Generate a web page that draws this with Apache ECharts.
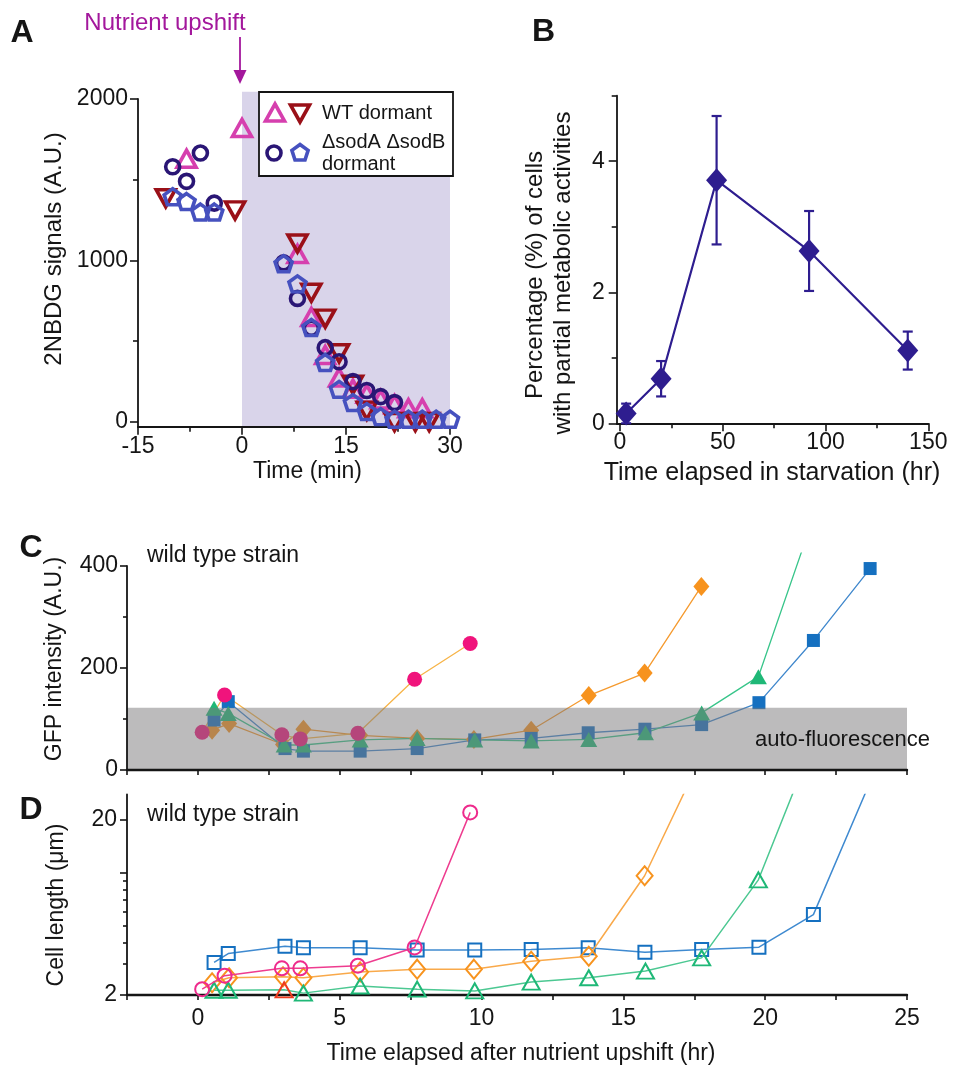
<!DOCTYPE html>
<html>
<head>
<meta charset="utf-8">
<title>Dormancy depth and regrowth</title>
<style>
  html, body { margin: 0; padding: 0; background: #ffffff; }
  #chart { width: 955px; height: 1067px; }
</style>
<script src="https://cdn.jsdelivr.net/npm/echarts@6/dist/echarts.min.js"></script>
</head>
<body>
<div id="chart"></div>
<script>
// ---------- Panel A: 2NBDG signal around the nutrient upshift (min) ----------
const aTimeWtUp = [-8, 0, 8, 10, 12, 14, 16, 18, 20, 22, 24, 26];
const aSignalWtUp = [1630, 1820, 1040, 650, 415, 275, 205, 175, 140, 110, 85, 85];
const aTimeWtDown = [-11, -1, 8, 10, 12, 14, 16, 18, 22, 25, 27];
const aSignalWtDown = [1385, 1310, 1105, 800, 640, 425, 230, 70, 0, 0, 0];
const aTimeSodCircle = [-10, -8, -6, -4, 6, 8, 10, 12, 14, 16, 18, 20, 22];
const aSignalSodCircle = [1580, 1490, 1665, 1355, 985, 765, 580, 460, 373, 250, 195, 157, 120];
const aTimeSodPent = [-10, -8, -6, -4, 6, 8, 10, 12, 14, 16, 18, 20, 22, 24, 26, 28, 30];
const aSignalSodPent = [1395, 1365, 1300, 1300, 980, 855, 585, 368, 202, 120, 64, 33, 17, 17, 17, 17, 17];
const aUpshiftWindow = [0, 30];
const aXTicks = [-15, 0, 15, 30];
const aXMinorTicks = [-7.5, 7.5, 22.5];
const aYTicks = [0, 1000, 2000];
const aYMinorTicks = [500, 1500];

// ---------- Panel B: cells with partial metabolic activity vs starvation time ----------
const bTime = [3, 20, 47, 92, 140];
const bPercent = [0.15, 0.68, 3.71, 2.63, 1.11];
const bError = [0.15, 0.27, 0.98, 0.61, 0.29];
const bXTicks = [0, 50, 100, 150];
const bXMinorTicks = [25, 75, 125];
const bYTicks = [0, 2, 4];
const bYMinorTicks = [1, 3, 5];

// ---------- Panels C and D: single wild type cells after the upshift (hr) ----------
const cell1Time = [0.15, 0.94, 2.96, 3.61, 5.64, 7.64, 9.6];
const cell1Gfp = [74, 147, 69, 61, 72, 178, 248];
const cell1Length = [2.16, 2.58, 2.84, 2.84, 2.94, 3.74, 22.1];

const cell2Time = [0.5, 1.1, 3.0, 3.72, 5.72, 7.73, 9.73, 11.75, 13.78, 15.75, 17.75];
const cell2Gfp = [78, 91, 50, 80, 68, 62, 60, 78, 146, 190, 360];
const cell2Length = [2.35, 2.51, 2.54, 2.51, 2.71, 2.81, 2.81, 3.12, 3.33, 9.6, 46];

const cell3Time = [0.57, 1.07, 3.04, 3.72, 5.72, 7.73, 9.76, 11.75, 13.78, 15.78, 17.76, 19.76, 21.7];
const cell3Gfp = [121, 111, 49, 49, 59, 62, 59, 57, 60, 73, 112, 183, 495];
const cell3Length = [2.13, 2.13, 2.14, 2.05, 2.25, 2.16, 2.11, 2.37, 2.51, 2.74, 3.26, 9.1, 56];

const cell4Time = [0.57, 1.07, 3.07, 3.72, 5.72, 7.73, 9.76, 11.75, 13.76, 15.76, 17.76, 19.78, 21.7, 23.7];
const cell4Gfp = [98, 134, 42, 37, 37, 42, 59, 62, 73, 80, 89, 132, 254, 395];
const cell4Length = [3.07, 3.45, 3.80, 3.72, 3.72, 3.61, 3.61, 3.64, 3.72, 3.51, 3.64, 3.75, 5.76, 33];

const cAutoFluorescence = 122;
const cYTicks = [0, 200, 400];
const cYMinorTicks = [100, 300];
const dYTicks = [2, 10, 20];
const dYLabels = [2, 20];
const dYMinorTicks = [3, 4, 5, 6, 7, 8, 9];

// ---------- styling ----------
const FONT = '"Liberation Sans", Arial, Helvetica, sans-serif';
const INK = '#151515';
const A_MAGENTA = '#d63fae';
const A_RED = '#9a1018';
const A_NAVY = '#2a1675';
const A_BLUE = '#4651bf';
const B_COLOR = '#2e1d8f';
const PINK = '#f0147c';
const ORANGE = '#f7931e';
const GREEN = '#1fb877';
const BLUE = '#1570c0';
const HOLLOW = 'rgba(0,0,0,0)';
const PENTAGON = 'path://M0,-10 L9.51,-3.09 L5.88,8.09 L-5.88,8.09 L-9.51,-3.09 Z';

// axis ranges
const A_X = [-15, 30], A_Y = [-30, 2045];
const B_X = [-1.6, 150], B_Y = [0, 5];
const CD_X = [-2.5, 25];
const C_Y = [0, 425];
const D_Y = [2, 28];

function zip(xs, ys) { return xs.map((x, i) => [x, ys[i]]); }
function log10s(arr) { return arr.map(v => Math.log10(v)); }
function plain(v) { return String(v); }

function merge(a, b) {
  const out = Object.assign({}, a);
  for (const k in b) {
    const v = b[k];
    if (v && typeof v === 'object' && !Array.isArray(v) && a && a[k] && typeof a[k] === 'object' && !Array.isArray(a[k])) {
      out[k] = merge(a[k], v);
    } else {
      out[k] = v;
    }
  }
  return out;
}

function axis(gridIndex, position, range, extra) {
  return merge({
    type: 'value', gridIndex, position, min: range[0], max: range[1],
    splitLine: { show: false },
    axisLine: { show: true, onZero: false, lineStyle: { color: INK, width: 1.8 } },
    axisTick: { show: true, inside: false, length: 8, lineStyle: { color: INK, width: 1.6 } },
    axisLabel: { show: true, color: INK, fontFamily: FONT, fontSize: 23, margin: 8, formatter: plain }
  }, extra || {});
}

function minorAxis(gridIndex, position, range, values, length) {
  return axis(gridIndex, position, range, {
    axisLine: { show: false },
    axisTick: { customValues: values, length: length },
    axisLabel: { show: false }
  });
}

// vertical axis line drawn only up to the top labelled tick
function axisLineSeries(xi, yi, x, y0, y1, z) {
  return {
    type: 'custom', xAxisIndex: xi, yAxisIndex: yi, z: z, silent: true, clip: false,
    data: [[x, y0, y1]],
    renderItem: (params, api) => {
      const a = api.coord([api.value(0), api.value(1)]);
      const b = api.coord([api.value(0), api.value(2)]);
      return { type: 'line', shape: { x1: a[0], y1: a[1] + 0.9, x2: b[0], y2: b[1] - 0.8 },
               style: { stroke: INK, lineWidth: 1.8 } };
    }
  };
}

function text(str, x, y, size, extra) {
  const e = extra || {};
  return {
    type: 'text', x: x, y: y, z: 100, rotation: e.rotation || 0, silent: true,
    style: {
      text: str, fill: e.color || INK, fontFamily: FONT, fontSize: size,
      fontWeight: e.weight || 'normal',
      align: e.align || 'center', verticalAlign: 'middle',
      textAlign: e.align || 'center', textVerticalAlign: 'middle'
    }
  };
}

function aScatter(name, xs, ys, symbol, size, color, rotate) {
  return {
    name, type: 'scatter', xAxisIndex: 0, yAxisIndex: 0, clip: false, z: 3,
    symbol, symbolSize: size, symbolRotate: rotate || 0,
    itemStyle: { color: HOLLOW, borderColor: color, borderWidth: 3.6, opacity: 1 },
    data: zip(xs, ys)
  };
}

function cLine(xs, ys, symbol, size, color, lineColor) {
  return {
    type: 'line', xAxisIndex: 4, yAxisIndex: 4, z: 3,
    symbol, symbolSize: size,
    itemStyle: { color: color, borderWidth: 0 },
    lineStyle: { color: lineColor, width: 1.3 },
    data: zip(xs, ys)
  };
}

function dLine(xs, ys, symbol, size, color, lineColor, z) {
  return {
    type: 'line', xAxisIndex: 5, yAxisIndex: 6, z: z,
    symbol, symbolSize: size,
    itemStyle: { color: HOLLOW, borderColor: color, borderWidth: 2 },
    lineStyle: { color: lineColor, width: 1.5 },
    data: zip(xs, ys)
  };
}

const chart = echarts.init(document.getElementById('chart'));

const greenLength = zip(cell3Time, cell3Length).map((p, i) =>
  i === 2 ? { value: p, itemStyle: { borderColor: '#ee3b1e' } } : p);

const option = {
  animation: false,
  backgroundColor: '#ffffff',
  textStyle: { fontFamily: FONT },
  grid: [
    { left: 138, top: 91.7, width: 312, height: 335.1 },
    { left: 616.7, top: 95.7, width: 311.6, height: 327.6 },
    { left: 127, top: 553.25, width: 780, height: 216.75 },
    { left: 127, top: 794.4, width: 780, height: 200.6 }
  ],
  xAxis: [
    axis(0, 'bottom', A_X, { axisTick: { customValues: aXTicks, length: 8 }, axisLabel: { customValues: aXTicks } }),
    minorAxis(0, 'bottom', A_X, aXMinorTicks, 5),
    axis(1, 'bottom', B_X, { axisTick: { customValues: bXTicks, length: 8 }, axisLabel: { customValues: bXTicks } }),
    minorAxis(1, 'bottom', B_X, bXMinorTicks, 5),
    axis(2, 'bottom', CD_X, { interval: 2.5, z: 20, axisLine: { lineStyle: { width: 2.4 } }, axisTick: { length: 5 }, axisLabel: { show: false } }),
    axis(3, 'bottom', CD_X, { interval: 2.5, axisLine: { lineStyle: { width: 2.4 } }, axisTick: { length: 5 },
      axisLabel: { margin: 12, formatter: v => (v % 5 === 0 ? String(v) : '') } })
  ],
  yAxis: [
    axis(0, 'left', A_Y, { axisLine: { show: false }, axisTick: { customValues: aYTicks, length: 8 }, axisLabel: { customValues: aYTicks, margin: 10 } }),
    minorAxis(0, 'left', A_Y, aYMinorTicks, 5),
    axis(1, 'left', B_Y, { axisTick: { customValues: bYTicks, length: 8 }, axisLabel: { customValues: bYTicks, margin: 12 } }),
    minorAxis(1, 'left', B_Y, bYMinorTicks, 5),
    axis(2, 'left', C_Y, { axisLine: { show: false }, axisTick: { customValues: cYTicks, length: 7 }, axisLabel: { customValues: cYTicks, margin: 9 } }),
    minorAxis(2, 'left', C_Y, cYMinorTicks, 4),
    { type: 'log', logBase: 10, gridIndex: 3, position: 'left', min: D_Y[0], max: D_Y[1], show: false },
    axis(3, 'left', log10s(D_Y), {
      axisTick: { customValues: log10s(dYTicks), length: 7 },
      axisLabel: { customValues: log10s(dYLabels), margin: 10, formatter: v => String(Math.round(Math.pow(10, v))) }
    }),
    minorAxis(3, 'left', log10s(D_Y), log10s(dYMinorTicks), 4)
  ],
  series: [
    // ----- A -----
    {
      type: 'custom', xAxisIndex: 0, yAxisIndex: 0, z: 0, silent: true,
      data: [aUpshiftWindow],
      renderItem: (params, api) => {
        const p0 = api.coord([api.value(0), A_Y[0]]);
        const p1 = api.coord([api.value(1), A_Y[1]]);
        return { type: 'rect', shape: { x: p0[0], y: p1[1], width: p1[0] - p0[0], height: p0[1] - p1[1] },
                 style: { fill: '#d9d4ea' } };
      }
    },
    axisLineSeries(0, 0, A_X[0], A_Y[0], aYTicks[aYTicks.length - 1], 5),
    aScatter('WT dormant (1)', aTimeWtUp, aSignalWtUp, 'triangle', [19, 17], A_MAGENTA, 0),
    aScatter('WT dormant (2)', aTimeWtDown, aSignalWtDown, 'triangle', [19, 17], A_RED, 180),
    aScatter('sodA sodB dormant (1)', aTimeSodCircle, aSignalSodCircle, 'circle', 14, A_NAVY, 0),
    aScatter('sodA sodB dormant (2)', aTimeSodPent, aSignalSodPent, PENTAGON, [17, 16], A_BLUE, 0),

    // ----- B -----
    {
      type: 'line', xAxisIndex: 2, yAxisIndex: 2, z: 3,
      symbol: 'diamond', symbolSize: [21, 24],
      itemStyle: { color: B_COLOR },
      lineStyle: { color: B_COLOR, width: 2.2 },
      data: zip(bTime, bPercent)
    },
    {
      type: 'custom', xAxisIndex: 2, yAxisIndex: 2, z: 2, silent: true,
      data: bTime.map((t, i) => [t, bPercent[i], bError[i]]),
      renderItem: (params, api) => {
        const x = api.value(0), y = api.value(1), e = api.value(2);
        const hi = api.coord([x, y + e]);
        const lo = api.coord([x, y - e]);
        const cap = 5;
        const st = { stroke: B_COLOR, lineWidth: 2.2 };
        return {
          type: 'group', children: [
            { type: 'line', shape: { x1: hi[0], y1: hi[1], x2: lo[0], y2: lo[1] }, style: st },
            { type: 'line', shape: { x1: hi[0] - cap, y1: hi[1], x2: hi[0] + cap, y2: hi[1] }, style: st },
            { type: 'line', shape: { x1: lo[0] - cap, y1: lo[1], x2: lo[0] + cap, y2: lo[1] }, style: st }
          ]
        };
      }
    },

    // ----- C -----
    cLine(cell2Time, cell2Gfp, 'diamond', [16, 19], ORANGE, '#f59a2e'),
    cLine(cell4Time, cell4Gfp, 'rect', 13, BLUE, '#3f87cc'),
    cLine(cell3Time, cell3Gfp, 'triangle', [17, 15], GREEN, '#38c58a'),
    cLine(cell1Time, cell1Gfp, 'circle', 15, PINK, '#f7b448'),
    {
      // auto-fluorescence band, laid over the traces
      type: 'custom', xAxisIndex: 4, yAxisIndex: 4, z: 10, silent: true,
      data: [[CD_X[0], 0, CD_X[1], cAutoFluorescence]],
      renderItem: (params, api) => {
        const p0 = api.coord([api.value(0), api.value(1)]);
        const p1 = api.coord([api.value(2), api.value(3)]);
        return { type: 'rect', shape: { x: p0[0], y: p1[1], width: p1[0] - p0[0], height: p0[1] - p1[1] },
                 style: { fill: 'rgba(122,120,121,0.5)' } };
      }
    },
    axisLineSeries(4, 4, CD_X[0], C_Y[0], cYTicks[cYTicks.length - 1], 20),

    // ----- D -----
    dLine(cell4Time, cell4Length, 'rect', 13, BLUE, '#3f8ad0', 3),
    dLine(cell2Time, cell2Length, 'diamond', [16, 19], ORANGE, '#f9a94a', 4),
    {
      type: 'line', xAxisIndex: 5, yAxisIndex: 6, z: 5,
      symbol: 'triangle', symbolSize: [17, 15],
      itemStyle: { color: HOLLOW, borderColor: GREEN, borderWidth: 2 },
      lineStyle: { color: '#4cc892', width: 1.5 },
      data: greenLength
    },
    dLine(cell1Time, cell1Length, 'circle', 14, '#ee2a8c', '#ee3c8f', 6)
  ],
  graphic: [
    // panel letters
    text('A', 22, 33, 32, { weight: 'bold' }),
    text('B', 543.5, 32, 32, { weight: 'bold' }),
    text('C', 31, 548, 32, { weight: 'bold' }),
    text('D', 31, 810, 32, { weight: 'bold' }),

    // A annotations
    text('Nutrient upshift', 165, 23, 24, { color: '#a3179c' }),
    { type: 'line', z: 100, silent: true, shape: { x1: 240, y1: 37, x2: 240, y2: 72 }, style: { stroke: '#a3179c', lineWidth: 1.8 } },
    { type: 'polygon', z: 100, silent: true, shape: { points: [[233.5, 70], [246.5, 70], [240, 84]] }, style: { fill: '#a3179c' } },
    text('2NBDG signals (A.U.)', 54, 249, 24, { rotation: Math.PI / 2 }),
    text('Time (min)', 307.5, 472, 23),

    // A legend
    { type: 'rect', z: 90, silent: true, shape: { x: 259, y: 92, width: 194, height: 84 }, style: { fill: '#ffffff', stroke: INK, lineWidth: 1.8 } },
    { type: 'polygon', z: 100, silent: true, shape: { points: [[275, 104], [284.5, 121], [265.5, 121]] }, style: { fill: 'none', stroke: A_MAGENTA, lineWidth: 3.6 } },
    { type: 'polygon', z: 100, silent: true, shape: { points: [[290.5, 105], [309.5, 105], [300, 122]] }, style: { fill: 'none', stroke: A_RED, lineWidth: 3.6 } },
    { type: 'circle', z: 100, silent: true, shape: { cx: 274, cy: 153, r: 7 }, style: { fill: 'none', stroke: A_NAVY, lineWidth: 3.6 } },
    { type: 'polygon', z: 100, silent: true, shape: { points: [[300, 144.5], [308.1, 150.4], [305, 160], [295, 160], [291.9, 150.4]] }, style: { fill: 'none', stroke: A_BLUE, lineWidth: 3.6 } },
    text('WT dormant', 322, 113, 20, { align: 'left' }),
    text('\u0394sodA \u0394sodB', 322, 142, 20, { align: 'left' }),
    text('dormant', 322, 164, 20, { align: 'left' }),

    // B titles
    text('Percentage (%) of cells', 535, 275, 24, { rotation: Math.PI / 2 }),
    text('with partial metabolic activities', 563, 273, 24, { rotation: Math.PI / 2 }),
    text('Time elapsed in starvation (hr)', 772, 473, 25),

    // C and D titles
    text('wild type strain', 147, 556, 23, { align: 'left' }),
    text('auto-fluorescence', 755, 740, 22, { align: 'left' }),
    text('GFP intensity (A.U.)', 55, 659, 23, { rotation: Math.PI / 2 }),
    text('wild type strain', 147, 815, 23, { align: 'left' }),
    text('Cell length (\u03bcm)', 56.5, 905, 23, { rotation: Math.PI / 2 }),
    text('Time elapsed after nutrient upshift (hr)', 521, 1054, 23)
  ]
};

chart.setOption(option);
</script>
</body>
</html>
